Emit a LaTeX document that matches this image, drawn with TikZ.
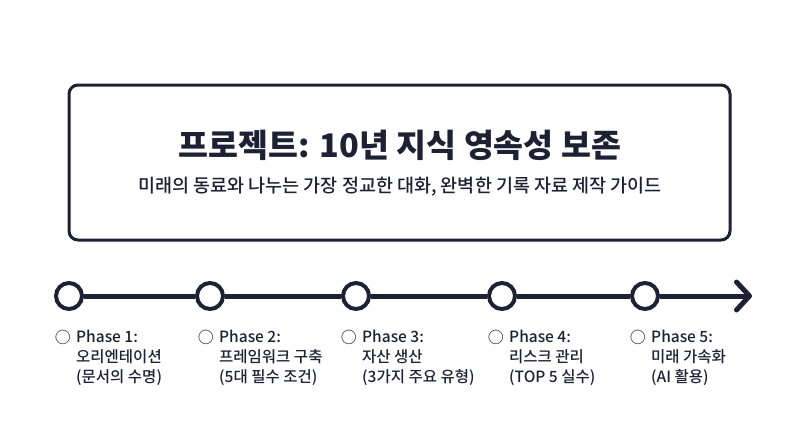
\documentclass[tikz,border=0pt]{standalone}
\usepackage{fontspec}
\setmainfont{Noto Sans CJK KR}
\newfontfamily\heavyfont{Noto Sans CJK KR Black}
\newfontfamily\medfont{Noto Sans CJK KR Medium}
\usetikzlibrary{arrows.meta, positioning}
\definecolor{navy}{HTML}{1C2233}

\begin{document}
\begin{tikzpicture}[
  x=1pt, y=-1pt,
  every node/.style={text=navy},
  titlebox/.style={rectangle, rounded corners=9pt, draw=navy, fill=white, line width=3pt, minimum width=661pt, minimum height=155pt},
  milestone/.style={circle, draw=navy, fill=white, line width=4pt, minimum size=26pt, inner sep=0pt},
  track/.style={draw=navy, line width=5pt},
  phaselbl/.style={font=\medfont\fontsize{15.5}{20}\selectfont, align=left, anchor=north west, inner sep=0pt},
  bullet/.style={font=\medfont\fontsize{16}{20}\selectfont, anchor=north east, inner sep=0pt},
]
\useasboundingbox (0,0) rectangle (800,447);

%% Title box
\node[titlebox] (box) at (399.5,162.5) {};
\node[font=\heavyfont\fontsize{32.5}{36}\selectfont] (title) at (400,145) {프로젝트: 10년 지식 영속성 보존};
\node[font=\medfont\fontsize{18.5}{22}\selectfont] (sub) at (400,187) {미래의 동료와 나누는 가장 정교한 대화, 완벽한 기록 자료 제작 가이드};

%% Timeline milestones
\node[milestone] (m1) at (69,296)  {};
\node[milestone] (m2) at (210,296) {};
\node[milestone] (m3) at (356,296) {};
\node[milestone] (m4) at (502,296) {};
\node[milestone] (m5) at (645,296) {};
\coordinate (tip) at (752,296);

%% Phase labels
\node[phaselbl] (l1) at (76,330)  {Phase 1:\\오리엔테이션\\(문서의 수명)};
\node[phaselbl] (l2) at (219,330) {Phase 2:\\프레임워크 구축\\(5대 필수 조건)};
\node[phaselbl] (l3) at (362,330) {Phase 3:\\자산 생산\\(3가지 주요 유형)};
\node[phaselbl] (l4) at (509,330) {Phase 4:\\리스크 관리\\(TOP 5 실수)};
\node[phaselbl] (l5) at (651,330) {Phase 5:\\미래 가속화\\(AI 활용)};

\node[bullet] (b1) at ([xshift=-5pt]l1.north west) {○};
\node[bullet] (b2) at ([xshift=-5pt]l2.north west) {○};
\node[bullet] (b3) at ([xshift=-5pt]l3.north west) {○};
\node[bullet] (b4) at ([xshift=-5pt]l4.north west) {○};
\node[bullet] (b5) at ([xshift=-5pt]l5.north west) {○};

%% Track
\draw[track] (m1) -- (m2);
\draw[track] (m2) -- (m3);
\draw[track] (m3) -- (m4);
\draw[track] (m4) -- (m5);
\draw[track, -{Straight Barb[length=13pt, width=28pt, round]}] (m5) -- (tip);

\end{tikzpicture}
\end{document}
